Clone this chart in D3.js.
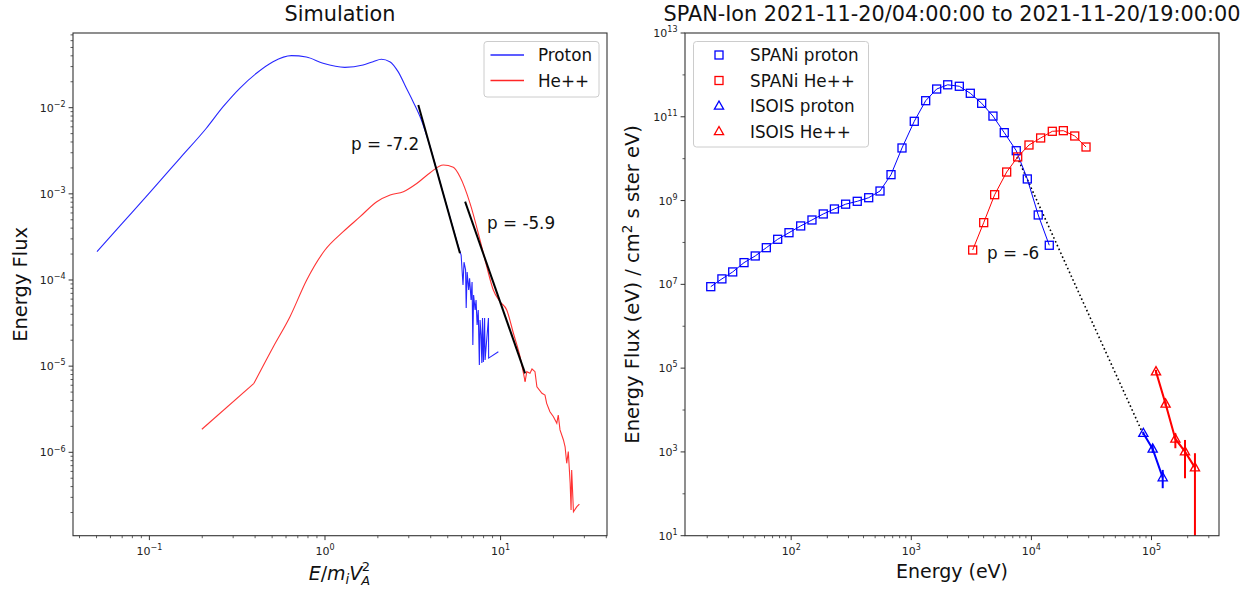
<!DOCTYPE html>
<html><head><meta charset="utf-8">
<script src="https://cdn.jsdelivr.net/npm/d3@7"></script>
<style>body{margin:0;background:#fff}svg{display:block}text{font-family:"DejaVu Sans",sans-serif;fill:#111}</style>
</head><body><svg id="c" width="1251" height="590"></svg>
<script>
// ---------------- data ----------------
// Left panel: simulation
const simProtonX = [0.0503,0.07,0.101,0.15,0.211,0.263,0.327,0.407,0.506,0.644,0.783,0.975,1.297,1.648,1.879,2.095,2.339,2.608,2.909,3.176,3.54,3.97,4.53,5.16,5.73,
  5.96,6.11,6.19,6.32,6.37,6.45,6.58,6.66,6.79,6.88,6.95,7.02,7.16,7.25,7.35,7.46,7.57,7.64,7.74,7.82,7.89,7.98,8.11,8.16,8.53,8.55,9.71];
const simProtonY = [2.13e-4,4.54e-4,1.05e-3,2.62e-3,5.77e-3,1.027e-2,1.68e-2,2.51e-2,3.42e-2,4.02e-2,3.88e-2,3.28e-2,2.94e-2,3.13e-2,3.42e-2,3.65e-2,3.42e-2,2.62e-2,1.68e-2,1.174e-2,7.2e-3,3.5e-3,1.34e-3,5.25e-4,2.48e-4,
  1.95e-4,8.75e-5,1.61e-4,1.31e-4,4.73e-5,1.24e-4,7.66e-5,1.05e-4,5.86e-5,9.48e-5,1.76e-5,6.7e-5,4.49e-5,5.86e-5,3.01e-5,4.49e-5,1.03e-5,3.44e-5,2.3e-5,1.09e-5,3.62e-5,1.12e-5,3.62e-5,1.18e-5,3.62e-5,1.24e-5,1.47e-5];
const simHeX = [0.199,0.394,0.508,0.632,0.787,1.0,1.27,1.585,1.972,2.35,2.795,3.33,3.97,4.72,5.38,5.87,6.70,7.64,8.34,9.09,9.93,10.84,11.83,12.91,13.79,
  14.1,14.7,15.1,15.7,16.1,17.2,17.9,18.3,19.1,20.0,20.9,21.3,21.8,22.8,23.3,23.8,24.3,24.9,25.2,25.4,26.0,27.2,28.1];
const simHeY = [1.85e-6,6.32e-6,1.68e-5,3.75e-5,1.0e-4,2.23e-4,3.64e-4,5.43e-4,8.11e-4,9.7e-4,1.06e-3,1.32e-3,1.76e-3,2.16e-3,2.03e-3,1.58e-3,7.76e-4,2.91e-4,1.43e-4,7.66e-5,5.6e-5,4.49e-5,2.41e-5,1.29e-5,6.6e-6,
  8.63e-6,8.26e-6,9.27e-6,8.63e-6,5.77e-6,4.84e-6,4.62e-6,3.7e-6,2.96e-6,2.59e-6,2.17e-6,2.71e-6,1.82e-6,1.39e-6,1.16e-6,7.45e-7,1.02e-6,4.37e-7,2.14e-7,6.24e-7,2.04e-7,2.34e-7,2.51e-7];
const fitProtonX = [3.40, 5.87], fitProtonY = [1.075e-2, 2.04e-4];
const fitHeX = [6.28, 13.79], fitHeY = [8.11e-4, 8.26e-6];
const leftLabels = ["p = -7.2", "p = -5.9"];

// Right panel: SPAN-Ion + ISOIS
const spanPE = [21.4,26.5,32.6,40.5,50.2,62.1,77.2,95.9,120,149,185,229,284,355,442,549,678,837,1059,1318,1627,2010,2512,3100,3855,4787,5945,7482,9247,11400,14090];
const spanPF = [8.8e6,1.35e7,1.98e7,3.3e7,4.76e7,7.5e7,1.19e8,1.71e8,2.48e8,3.44e8,4.79e8,6.3e8,8.2e8,9.6e8,1.17e9,1.69e9,4.15e9,1.8e10,7.8e10,2.42e11,4.6e11,5.8e11,5.35e11,3.64e11,2.1e11,1.04e11,4.18e10,1.55e10,3.28e9,4.53e8,8.57e7];
const spanHE = [3245,4008,4945,6226,7691,9550,11940,14930,18450,22960,28500];
const spanHF = [6.6e7,2.97e8,1.38e9,4.8e9,1.1e10,2.12e10,3.12e10,4.5e10,4.66e10,3.48e10,1.9e10];
const isoisPE = [85500,102300,124000];
const isoisPF = [2790,1180,244];
const isoisPLo = [2550,946,136];
const isoisPHi = [3050,1470,372];
const isoisHE = [109000,131000,158000,190000,230000];
const isoisHF = [82400,14000,2040,1016,422];
const isoisHLo = [74000,12600,1225,235,1];
const isoisHHi = [91000,15500,2790,1930,931];
const powerLawE = [7600, 84000], powerLawF = [1.1e10, 2900];
const rightLabel = "p = -6";
const legendLeft = ["Proton","He++"];
const legendRight = ["SPANi proton","SPANi He++","ISOIS proton","ISOIS He++"];
const leftXTicks = [-1,0,1], leftYTicks = [-6,-5,-4,-3,-2];
const rightXTicks = [2,3,4,5], rightYTicks = [1,3,5,7,9,11,13];

// ---------------- drawing ----------------
const svg = d3.select("#c");
const BLUE = "#0000ff", RED = "#ff0000";
const L = {x0:73, x1:607, y0:33, y1:535.7};
const R = {x0:685, x1:1219, y0:33, y1:535.7};

const xL = d3.scaleLog().domain([Math.pow(10,-1.435), Math.pow(10,1.606)]).range([L.x0, L.x1]);
const yL = d3.scaleLog().domain([Math.pow(10,-6.968), Math.pow(10,-1.133)]).range([L.y1, L.y0]);
const xR = d3.scaleLog().domain([Math.pow(10,1.116), Math.pow(10,5.562)]).range([R.x0, R.x1]);
const yR = d3.scaleLog().domain([10, 1e13]).range([R.y1, R.y0]);

function pow10Label(g, x, y, e, anchor){
  const t = g.append("text").attr("x", x).attr("y", y).attr("text-anchor", anchor)
    .style("font-size","11px").style("fill","#222");
  t.append("tspan").text("10");
  t.append("tspan").attr("dy", -4.8).style("font-size","8px").text(e < 0 ? "\u2212" + (-e) : String(e));
}

function frame(box, xs, ys, xMaj, xMin, yMaj, yMin){
  const g = svg.append("g");
  const tc = "#333";
  xMin.forEach(v => { const x = xs(v); g.append("line").attr("x1",x).attr("x2",x).attr("y1",box.y1).attr("y2",box.y1+2.5).attr("stroke",tc).attr("stroke-width",0.8); });
  yMin.forEach(v => { const y = ys(v); g.append("line").attr("x1",box.x0-2.5).attr("x2",box.x0).attr("y1",y).attr("y2",y).attr("stroke",tc).attr("stroke-width",0.8); });
  xMaj.forEach(e => { const x = xs(Math.pow(10,e));
    g.append("line").attr("x1",x).attr("x2",x).attr("y1",box.y1).attr("y2",box.y1+4.4).attr("stroke",tc).attr("stroke-width",1);
    pow10Label(g, x, box.y1+19.5, e, "middle"); });
  yMaj.forEach(e => { const y = ys(Math.pow(10,e));
    g.append("line").attr("x1",box.x0-4.4).attr("x2",box.x0).attr("y1",y).attr("y2",y).attr("stroke",tc).attr("stroke-width",1);
    pow10Label(g, box.x0-7.5, y+4, e, "end"); });
  g.append("rect").attr("x",box.x0).attr("y",box.y0).attr("width",box.x1-box.x0).attr("height",box.y1-box.y0)
    .attr("fill","none").attr("stroke","#333").attr("stroke-width",1.1);
}

function minors(lo, hi){
  const out = [];
  for (let k = Math.floor(Math.log10(lo))-1; k <= Math.ceil(Math.log10(hi)); k++){
    for (let s = 2; s <= 9; s++){ const v = s*Math.pow(10,k); if (v>=lo && v<=hi) out.push(v); }
  }
  return out;
}

// ----- Left panel -----
svg.append("clipPath").attr("id","clipL").append("rect").attr("x",L.x0).attr("y",L.y0).attr("width",L.x1-L.x0).attr("height",L.y1-L.y0);
const gL = svg.append("g").attr("clip-path","url(#clipL)");
const ptsP = simProtonX.map((x,i)=>[xL(x), yL(simProtonY[i])]);
const ptsH = simHeX.map((x,i)=>[xL(x), yL(simHeY[i])]);
const smooth = d3.line().curve(d3.curveMonotoneX);
const lin = d3.line();
gL.append("path").attr("d", smooth(ptsP.slice(0,25))).attr("fill","none").attr("stroke",BLUE).attr("stroke-width",1.1).attr("stroke-opacity",0.85);
gL.append("path").attr("d", lin(ptsP.slice(24))).attr("fill","none").attr("stroke",BLUE).attr("stroke-width",1.1).attr("stroke-opacity",0.85);
gL.append("path").attr("d", lin(ptsH.slice(0,2))).attr("fill","none").attr("stroke",RED).attr("stroke-width",1.1).attr("stroke-opacity",0.8);
gL.append("path").attr("d", smooth(ptsH.slice(1,25))).attr("fill","none").attr("stroke",RED).attr("stroke-width",1.1).attr("stroke-opacity",0.8);
gL.append("path").attr("d", lin(ptsH.slice(24))).attr("fill","none").attr("stroke",RED).attr("stroke-width",1.1).attr("stroke-opacity",0.8);
[[fitProtonX,fitProtonY],[fitHeX,fitHeY]].forEach(([fx,fy])=>{
  gL.append("path").attr("d", lin(fx.map((x,i)=>[xL(x), yL(fy[i])]))).attr("fill","none").attr("stroke","#000").attr("stroke-width",2);
});
svg.append("text").attr("x",351).attr("y",150).style("font-size","16.8px").text(leftLabels[0]);
svg.append("text").attr("x",487).attr("y",229).style("font-size","16.8px").text(leftLabels[1]);

frame(L, xL, yL, leftXTicks, minors(xL.domain()[0], xL.domain()[1]).filter(v=>![0.1,1,10].includes(+v.toPrecision(3))),
  leftYTicks, minors(yL.domain()[0], yL.domain()[1]));

// legend left
const lgL = svg.append("g");
lgL.append("rect").attr("x",484).attr("y",41.5).attr("width",115).attr("height",55.5).attr("rx",3)
  .attr("fill","#fff").attr("fill-opacity",0.8).attr("stroke","#ccc").attr("stroke-width",1);
[[BLUE,55],[RED,80.5]].forEach(([c,y],i)=>{
  lgL.append("line").attr("x1",490.5).attr("x2",524).attr("y1",y).attr("y2",y).attr("stroke",c).attr("stroke-width",1.3).attr("stroke-opacity",0.85);
  lgL.append("text").attr("x",538).attr("y",y+6).style("font-size","16.8px").text(legendLeft[i]);
});

// titles & labels left
svg.append("text").attr("x",(L.x0+L.x1)/2).attr("y",21).attr("text-anchor","middle").style("font-size","20.8px").text("Simulation");
svg.append("text").attr("transform",`translate(27,${(L.y0+L.y1)/2}) rotate(-90)`).attr("text-anchor","middle").style("font-size","19.5px").text("Energy Flux");
// x label: E/m_i V_A^2 (math style)
const xl = svg.append("g");
const xt = xl.append("text").attr("x",0).attr("y",580).style("font-size","19px");
xt.append("tspan").style("font-style","italic").text("E");
xt.append("tspan").text("/");
xt.append("tspan").style("font-style","italic").text("m");
xt.append("tspan").attr("dy",4).style("font-size","13.5px").style("font-style","italic").text("i");
xt.append("tspan").attr("dy",-4).style("font-style","italic").text("V");
const wMain = xt.node().getComputedTextLength();
xl.append("text").attr("x",wMain-1).attr("y",585).style("font-size","13px").style("font-style","italic").text("A");
xl.append("text").attr("x",wMain-0.5).attr("y",571).style("font-size","13px").text("2");
const wAll = wMain + 9;
xl.attr("transform",`translate(${(L.x0+L.x1)/2 - wAll/2},0)`);

// ----- Right panel -----
svg.append("clipPath").attr("id","clipR").append("rect").attr("x",R.x0).attr("y",R.y0).attr("width",R.x1-R.x0).attr("height",R.y1-R.y0);
const gR = svg.append("g").attr("clip-path","url(#clipR)");
gR.append("path").attr("d", lin(powerLawE.map((e,i)=>[xR(e), yR(powerLawF[i])]))).attr("fill","none")
  .attr("stroke","#000").attr("stroke-width",1.6).attr("stroke-dasharray","1.6,2.6");

function marker(g, x, y, color, shape){
  if (shape === "square") g.append("rect").attr("x",x-4).attr("y",y-4).attr("width",8).attr("height",8)
      .attr("fill","none").attr("stroke",color).attr("stroke-width",1.3);
  else g.append("path").attr("d", `M${x},${y-5} L${x+4.6},${y+3.2} L${x-4.6},${y+3.2} Z`)
      .attr("fill","none").attr("stroke",color).attr("stroke-width",1.3);
}
function series(E, F, color, shape, lw){
  const pts = E.map((e,i)=>[xR(e), yR(F[i])]);
  gR.append("path").attr("d", lin(pts)).attr("fill","none").attr("stroke",color).attr("stroke-width",lw);
  pts.forEach(p=>marker(gR, p[0], p[1], color, shape));
}
function errbars(E, lo, hi, color){
  E.forEach((e,i)=>{ gR.append("line").attr("x1",xR(e)).attr("x2",xR(e)).attr("y1",yR(Math.max(lo[i],1))).attr("y2",yR(hi[i]))
    .attr("stroke",color).attr("stroke-width",2); });
}
series(spanPE, spanPF, BLUE, "square", 1);
series(spanHE, spanHF, RED, "square", 1);
errbars(isoisPE, isoisPLo, isoisPHi, BLUE);
errbars(isoisHE, isoisHLo, isoisHHi, RED);
series(isoisPE, isoisPF, BLUE, "tri", 2);
series(isoisHE, isoisHF, RED, "tri", 2);
svg.append("text").attr("x",987).attr("y",259).style("font-size","16.8px").text(rightLabel);

const rYMin = d3.range(2,13,2).map(k=>Math.pow(10,k));
frame(R, xR, yR, rightXTicks, minors(xR.domain()[0], xR.domain()[1]), rightYTicks, rYMin);

// legend right
const lgR = svg.append("g");
lgR.append("rect").attr("x",693.5).attr("y",41.5).attr("width",175).attr("height",105.5).attr("rx",3)
  .attr("fill","#fff").attr("fill-opacity",0.8).attr("stroke","#ccc").attr("stroke-width",1);
[[BLUE,"square",55],[RED,"square",80.5],[BLUE,"tri",106],[RED,"tri",131.5]].forEach(([c,s,y],i)=>{
  marker(lgR, 719, y, c, s);
  lgR.append("text").attr("x",750).attr("y",y+6).style("font-size","16.8px").text(legendRight[i]);
});

svg.append("text").attr("x",(R.x0+R.x1)/2).attr("y",21).attr("text-anchor","middle").style("font-size","20.8px")
  .text("SPAN-Ion 2021-11-20/04:00:00 to 2021-11-20/19:00:00");
svg.append("text").attr("x",(R.x0+R.x1)/2).attr("y",578).attr("text-anchor","middle").style("font-size","19px").text("Energy (eV)");
const yl = svg.append("text").attr("transform",`translate(639,${(R.y0+R.y1)/2}) rotate(-90)`).attr("text-anchor","middle").style("font-size","19.5px");
yl.append("tspan").text("Energy Flux (eV) / cm");
yl.append("tspan").attr("dy",-7).style("font-size","13.5px").text("2");
yl.append("tspan").attr("dy",7).text(" s ster eV)");
</script></body></html>
